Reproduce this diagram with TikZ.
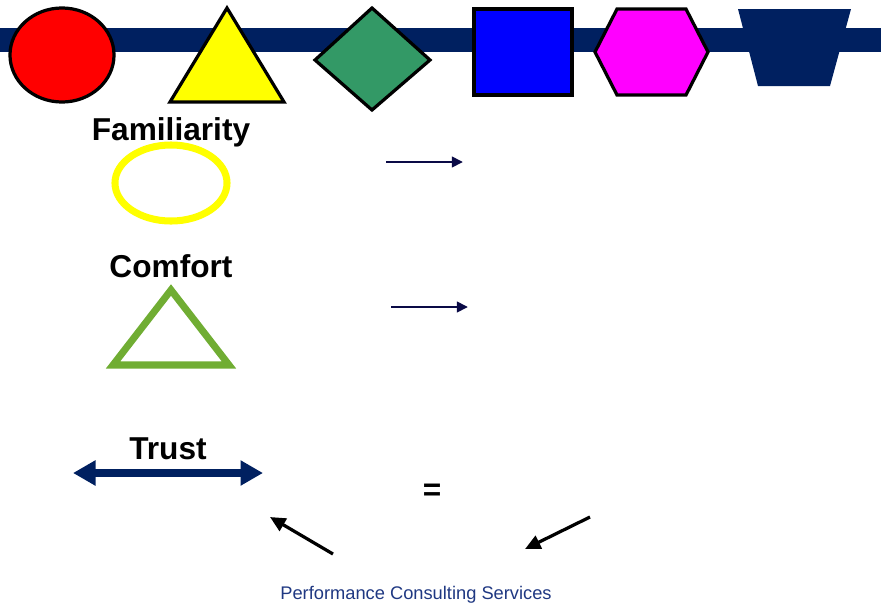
\documentclass[tikz,border=0pt]{standalone}
\usepackage{fontspec}
\setmainfont{Liberation Sans}
\usetikzlibrary{arrows.meta}
\definecolor{bandnavy}{RGB}{0,32,96}
\definecolor{arrownavy}{RGB}{10,10,70}
\definecolor{shapered}{RGB}{255,0,0}
\definecolor{shapeyellow}{RGB}{255,255,0}
\definecolor{shapeblue}{RGB}{0,0,255}
\definecolor{shapemagenta}{RGB}{255,0,255}
\definecolor{diamondgreen}{RGB}{51,153,102}
\definecolor{comfortgreen}{RGB}{112,173,51}
\definecolor{footnavy}{RGB}{31,56,130}
\begin{document}
\begin{tikzpicture}[x=0.025cm, y=-0.025cm,
		wordlabel/.style={font=\fontsize{22.5}{26}\selectfont\bfseries, inner sep=0pt},
		shapeline/.style={draw=black, line width=2.3pt},
		smallarrow/.style={-{Triangle[length=8pt,width=7.5pt]}, line width=2.1pt, arrownavy},
		blackarrow/.style={-{Triangle[length=11pt,width=10pt]}, line width=2.3pt, black}]
			\useasboundingbox (0,0) rectangle (881,607);
			% band and top shapes
			\fill[bandnavy] (0,28) rectangle (881,52);
			\filldraw[fill=shapered, shapeline] (62,55) ellipse [x radius=1.3cm, y radius=1.175cm];
			\filldraw[fill=shapeyellow, shapeline] (227,8) -- (284,102) -- (170,102) -- cycle;
			\filldraw[fill=diamondgreen, shapeline] (372,8) -- (430,60) -- (372,110) -- (315,60) -- cycle;
			\filldraw[fill=shapeblue, shapeline] (474,9) rectangle (572,95);
			\filldraw[fill=shapemagenta, shapeline] (617,9) -- (686,9) -- (708,52) -- (686,95) -- (617,95) -- (595,52) -- cycle;
			\fill[bandnavy] (738,9) -- (851,9) -- (830,86) -- (758,86) -- cycle;
			
			% familiarity
			\node[wordlabel, anchor=base] (familiarity) at (171,140) {Familiarity};
			\draw[shapeyellow, line width=5pt] (171,183) ellipse [x radius=1.4cm, y radius=0.95cm];
			\coordinate (famstart) at (386,162);
			\coordinate (famend) at (463,162);
			\draw[smallarrow] (famstart) -- (famend);
			
			% comfort
			\node[wordlabel, anchor=base] (comfort) at (171,277) {Comfort};
			\draw[comfortgreen, line width=5pt, line join=miter] (171,290) -- (229,365) -- (113,365) -- cycle;
			\coordinate (comstart) at (391,307);
			\coordinate (comend) at (468,307);
			\draw[smallarrow] (comstart) -- (comend);
			
			% trust
			\node[wordlabel, anchor=base] (trust) at (168,459) {Trust};
			\coordinate (trustleft) at (73,473);
			\coordinate (trustright) at (263,473);
			\draw[{Triangle[length=16pt,width=17pt]}-{Triangle[length=16pt,width=17pt]}, bandnavy, line width=5pt] (trustleft) -- (trustright);
			\node[wordlabel] (equals) at (432,492) {=};
			
			\coordinate (leftfrom) at (333,554);
			\coordinate (leftto) at (270,517);
			\draw[blackarrow] (leftfrom) -- (leftto);
			\coordinate (rightfrom) at (590,517);
			\coordinate (rightto) at (525,549);
			\draw[blackarrow] (rightfrom) -- (rightto);
			
			\node[footnavy, font=\fontsize{13}{15}\selectfont] (footer) at (416,595) {Performance Consulting Services};
		
		\end{tikzpicture}
\end{document}
